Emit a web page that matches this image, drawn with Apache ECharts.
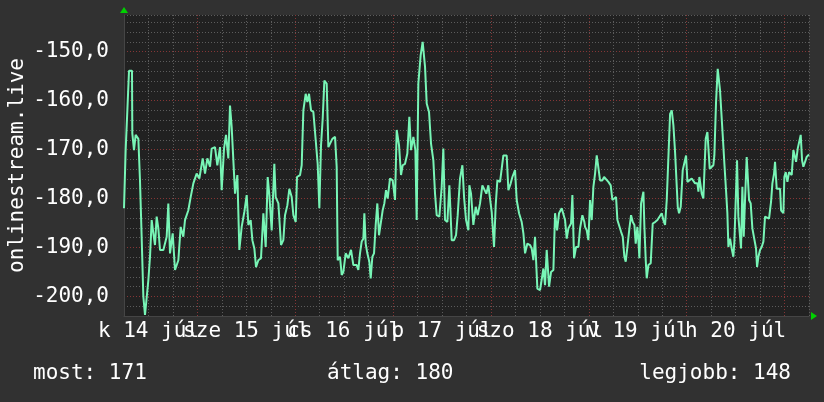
<!DOCTYPE html>
<html>
<head>
<meta charset="utf-8">
<script src="https://cdn.jsdelivr.net/npm/echarts@6/dist/echarts.min.js"></script>
<style>
  html, body { margin: 0; padding: 0; background: #313131; }
  #chart { width: 824px; height: 402px; }
</style>
</head>
<body>
<div id="chart"></div>
<script>
  // time in hours from 14 Jul 00:00
  var hours = [
    6.0, 6.08, 6.41, 6.82, 7.23, 7.96, 8.04, 8.45, 8.86, 9.52, 9.92, 10.33, 10.74, 11.15, 11.56, 11.97,
    12.38, 12.79, 13.2, 13.6, 14.01, 14.42, 14.83, 15.65, 16.47, 16.87, 17.28, 17.94, 18.51, 19.33, 19.9,
    20.55, 20.96, 21.78, 22.35, 23.01, 23.82, 24.48, 25.3, 25.87, 26.44, 27.1, 27.5, 28.32, 28.89, 29.55,
    29.96, 30.53, 31.02, 31.59, 32.0, 32.41, 33.23, 33.8, 34.29,
    34.45, 34.86, 35.52, 36.09, 36.5, 37.07, 37.48, 37.97, 38.38, 38.95, 39.6, 40.18, 40.75, 41.24, 41.65,
    42.22, 42.87, 43.2, 43.86, 44.51, 45.08, 45.49, 46.06, 46.55, 47.13, 47.54, 48.11, 48.43, 49.17, 49.58,
    49.99, 50.56, 50.97, 51.38, 51.87, 52.44, 52.85, 53.5, 53.91, 54.32, 54.73, 55.14, 55.71, 56.12, 56.53,
    57.1, 57.76, 58.16, 58.41, 58.98, 59.39, 59.8, 60.37, 61.03, 61.68, 62.25,
    62.41, 63.07, 63.47, 63.88, 64.29, 64.7, 64.95, 65.27, 65.68, 66.17, 66.5, 66.91, 67.32, 67.73, 68.13,
    68.54, 69.03, 69.44, 69.85, 70.26, 70.67, 71.24, 71.9, 72.47, 72.88, 73.45, 73.94, 74.35, 74.92, 75.49,
    75.98, 76.39, 76.97, 77.46, 77.78, 78.19, 78.76, 79.25, 79.58, 79.83, 80.24, 80.81, 81.3, 81.87, 82.28,
    82.69, 83.34, 83.92, 84.32, 84.73, 85.31, 85.8, 86.37, 86.94, 87.43, 87.84, 88.41, 88.99, 89.4, 89.89,
    90.46, 90.7,
    91.11, 91.68, 92.26, 92.75, 93.32, 93.89, 94.38, 94.87, 95.36, 95.77, 96.18, 96.75, 97.16, 97.57, 98.23,
    98.63, 99.04, 99.86, 100.27, 100.84, 101.25, 101.9, 102.31, 102.89, 103.54, 103.95, 104.36, 104.93,
    105.58, 105.99, 106.4, 106.81, 107.06, 107.38, 108.04, 108.45, 108.86, 109.26, 109.67, 110.25, 110.74,
    111.31, 111.72, 112.21, 112.7, 113.35, 113.76, 114.17, 114.58, 114.99, 115.64, 115.97, 116.38, 116.87,
    117.44, 117.85, 118.42, 118.91,
    119.08, 119.49, 119.89, 120.3, 120.71, 121.12, 121.53, 121.94, 122.35, 122.76, 123.33, 123.74, 124.23,
    124.8, 125.37, 125.78, 126.27, 126.68, 127.01, 127.5, 127.91, 128.32, 128.72, 129.05, 129.46, 129.95,
    130.36, 130.77, 131.18, 131.5, 131.91, 132.16, 132.4, 132.81, 133.39, 133.63, 133.96, 134.2, 134.61,
    135.18, 135.67, 136.25, 136.82, 137.31, 137.88, 138.29, 138.7, 139.11, 139.52, 139.93, 140.34, 140.74,
    141.15, 141.56, 141.81, 142.13, 142.54, 143.03, 143.44, 143.85, 144.18, 144.67, 145.24, 145.65, 146.06,
    146.63, 146.88,
    147.11, 147.44, 147.69, 148.09, 148.34, 148.67, 149.08, 149.48, 149.65, 150.14, 150.55, 150.79, 151.2,
    151.61, 151.94, 152.18, 152.59, 152.84, 153.25, 153.65, 153.98, 154.23, 154.64, 155.04, 155.45, 155.7,
    156.03, 156.35, 156.68, 157.09, 157.33, 157.66, 157.99, 158.31, 158.72, 158.97, 159.3, 159.7, 160.11,
    160.6, 161.01, 161.26, 161.59, 161.99, 162.4, 162.81, 163.22, 163.63, 164.2, 164.69, 165.02, 165.43,
    165.67, 166.08, 166.9, 167.15, 167.72, 167.96, 168.29, 168.7, 169.11, 169.76, 170.17, 170.58, 170.83,
    171.23, 171.64, 171.97, 172.3, 172.62, 173.03, 173.44, 174.0
  ]
  var values = [
    -182, -182, -170, -162, -153.9, -153.9, -166.7, -170.1, -167, -167.8, -176.3, -187.8, -200, -203.8, -203.8, -196.7,
    -191.9, -184.4, -187.1, -189.5, -183.7, -186.1, -190.5, -190.5, -187.8, -181, -191.2, -187.1, -194.6, -192.6, -185.8,
    -187.8, -184.4, -182.4, -179.7, -176.9, -174.9, -175.9, -171.8, -174.9, -171.8, -173.5, -169.8, -169.5, -173.2, -169.5,
    -178.3, -169.8, -167, -171.8, -161, -165.4, -179, -175.2, -190.5,
    -190.5, -185.8, -182.7, -179.3, -185.4, -184.4, -188.5, -190.2, -194, -192.6, -192.2, -183, -189.9, -175.6, -179.3,
    -186.5, -172.9, -179.7, -181, -189.5, -188.5, -183.4, -181.4, -178, -179.7, -183.4, -184.8, -175.6, -175.2, -173.2,
    -162, -158.6, -160.3, -158.6, -162, -162.3, -166.4, -172.9, -182, -169.1, -163.7, -155.9, -156.5, -169.5, -169.8,
    -167.8, -167.4, -173.5, -192.6, -191.9, -195.6, -195, -191.2, -192.2, -190.5, -193.6,
    -193.6, -193.6, -194.6, -191.2, -188.8, -188.2, -183, -189.2, -191.2, -192.9, -196.3, -191.9, -191.2, -185.4, -181,
    -187.5, -187.8, -182.4, -181, -178.3, -180, -175.9, -176.3, -180.3, -166, -169.1, -175.2, -173.2, -172.9, -170.8,
    -163.3, -170.1, -167.4, -170.1, -184.4, -156.5, -150.7, -148, -148, -153.1, -160.6, -162.3, -168.8, -172.2, -179,
    -183.4, -183.7, -177.6, -169.8, -184.4, -184.8, -177.3, -188.5, -188.5, -187.5, -183.4, -175.9, -173.2, -179.7, -184.4,
    -186.5, -177.3,
    -179, -185.4, -181.7, -183.4, -181, -177.3, -177.6, -179, -177.3, -180, -182.7, -189.9, -181.4, -176.3, -176.6,
    -176.3, -171.2, -171.2, -178.3, -176.9, -175.6, -174.2, -180.3, -183, -184.8, -187.1, -191.2, -189.2,
    -189.5, -190.2, -192.6, -187.8, -192.6, -198.4, -198.7, -199, -194.3, -197.7, -190.5, -198, -195,
    -194.6, -183, -186.5, -183, -182, -181.7, -184.4, -188.2, -186.1, -185.1, -179.3, -192.2, -189.9,
    -189.9, -186.1, -183.4, -184.8,
    -185.8, -186.5, -188.5, -180.3, -184.4, -177.6, -174.9, -171.2, -170.8, -176.3, -176.3, -175.6, -175.2,
    -176.6, -177.3, -180.3, -180.6, -179.7, -184.4, -184.4, -186.8, -187.8, -191.9, -192.9, -189.9, -186.1,
    -183.4, -184.8, -185.4, -189.2, -185.8, -188.5, -192.2, -181, -178.6, -185.8, -192.6, -196.3, -193.6,
    -193.2, -185.1, -184.8, -184.4, -184.1, -183, -184.4, -185.4, -180.3, -180.3, -162.7, -162, -165,
    -170.5, -170.5, -181.7, -183, -181.7, -174.2, -173.9, -171.2, -176.6, -176.3, -175.9, -175.9, -176.9,
    -176.9, -178.6,
    -175.6, -175.6, -179, -180, -180.3, -167.8, -166.4, -166.4, -173.9, -173.9, -173.2, -171.2, -160.3,
    -153.5, -153.5, -157.9, -157.9, -167.1, -172.9, -178.3, -183, -189.9, -188.2, -190.2, -191.9, -188.8,
    -189.2, -172.2, -183.7, -184.1, -190.2, -177.6, -187.8, -180.3, -171.5, -171.5, -180.3, -181, -186.1,
    -186.5, -190.2, -194, -191.9, -190.5, -189.9, -188.8, -183.7, -184.1, -184.1, -180.7, -176.9, -174.9,
    -172.5, -178, -178, -182.4, -183, -175.6, -174.6, -176.6, -174.6, -175.2, -170.1, -170.1, -172.5,
    -169.8, -169.5, -167, -172.2, -173.5, -172.5, -171.5, -171
  ]
  // labels sit at noon of each day
  var dayLabels = ['k 14 júl', 'sze 15 júl', 'cs 16 júl', 'p 17 júl', 'szo 18 júl', 'v 19 júl', 'h 20 júl']
  var legendTexts = ['most: 171', 'átlag: 180', 'legjobb: 148']

  var chart = echarts.init(document.getElementById('chart'))
  var font = 'DejaVu Sans Mono'
  var minor = '#5c5c5c'
  var major = '#853636'

  var points = values.map(function (v, i) { return [hours[i], v] })

  var option = {
    backgroundColor: '#313131',
    animation: false,
    grid: {
      left: 124, right: 15, top: 15, bottom: 86,
      outerBoundsMode: 'none',
      show: true, backgroundColor: '#212121', borderWidth: 0
    },
    xAxis: {
      type: 'value',
      min: 6,
      max: 174,
      interval: 6,
      axisLine: { show: true, lineStyle: { color: '#454545' } },
      axisTick: { show: false },
      splitLine: {
        show: true,
        lineStyle: { color: [minor, minor, minor, major], type: [1, 2], width: 1 }
      },
      axisLabel: {
        color: '#ffffff',
        fontFamily: font,
        fontSize: 21,
        margin: 5,
        formatter: function (v) {
          if ((v - 12) % 24 === 0) return dayLabels[(v - 12) / 24] || ''
          return ''
        }
      }
    },
    yAxis: {
      type: 'value',
      min: -204,
      max: -142.5,
      interval: 2,
      name: 'onlinestream.live',
      nameLocation: 'middle',
      nameGap: 96,
      nameMoveOverlap: false,
      nameTextStyle: { color: '#ffffff', fontFamily: font, fontSize: 21 },
      axisLine: { show: true, lineStyle: { color: '#454545' } },
      axisTick: { show: false },
      splitLine: {
        show: true,
        lineStyle: { color: [minor, minor, major, minor, minor], type: [1, 2], width: 1 }
      },
      axisLabel: {
        color: '#ffffff',
        fontFamily: font,
        fontSize: 21,
        margin: 15,
        formatter: function (v) {
          if (v % 10 === 0) return v.toFixed(1).replace('.', ',')
          return ''
        }
      }
    },
    series: [{
      type: 'line',
      data: points,
      showSymbol: false,
      smooth: false,
      lineStyle: { color: '#78f5b6', width: 2 }
    }],
    graphic: [
      { type: 'polygon', shape: { points: [[120, 13], [128, 13], [124, 7]] }, style: { fill: '#00d000' } },
      { type: 'polygon', shape: { points: [[811, 312], [811, 320], [817, 316]] }, style: { fill: '#00d000' } },
      { type: 'text', x: 33, y: 374, style: { text: legendTexts[0], font: '21px ' + font, fill: '#ffffff', verticalAlign: 'middle' } },
      { type: 'text', x: 327, y: 374, style: { text: legendTexts[1], font: '21px ' + font, fill: '#ffffff', verticalAlign: 'middle' } },
      { type: 'text', x: 791, y: 374, style: { text: legendTexts[2], font: '21px ' + font, fill: '#ffffff', verticalAlign: 'middle', align: 'right' } }
    ]
  }
  chart.setOption(option)
  window.addEventListener('resize', function () {
    chart.resize()
  })
</script>
</body>
</html>
